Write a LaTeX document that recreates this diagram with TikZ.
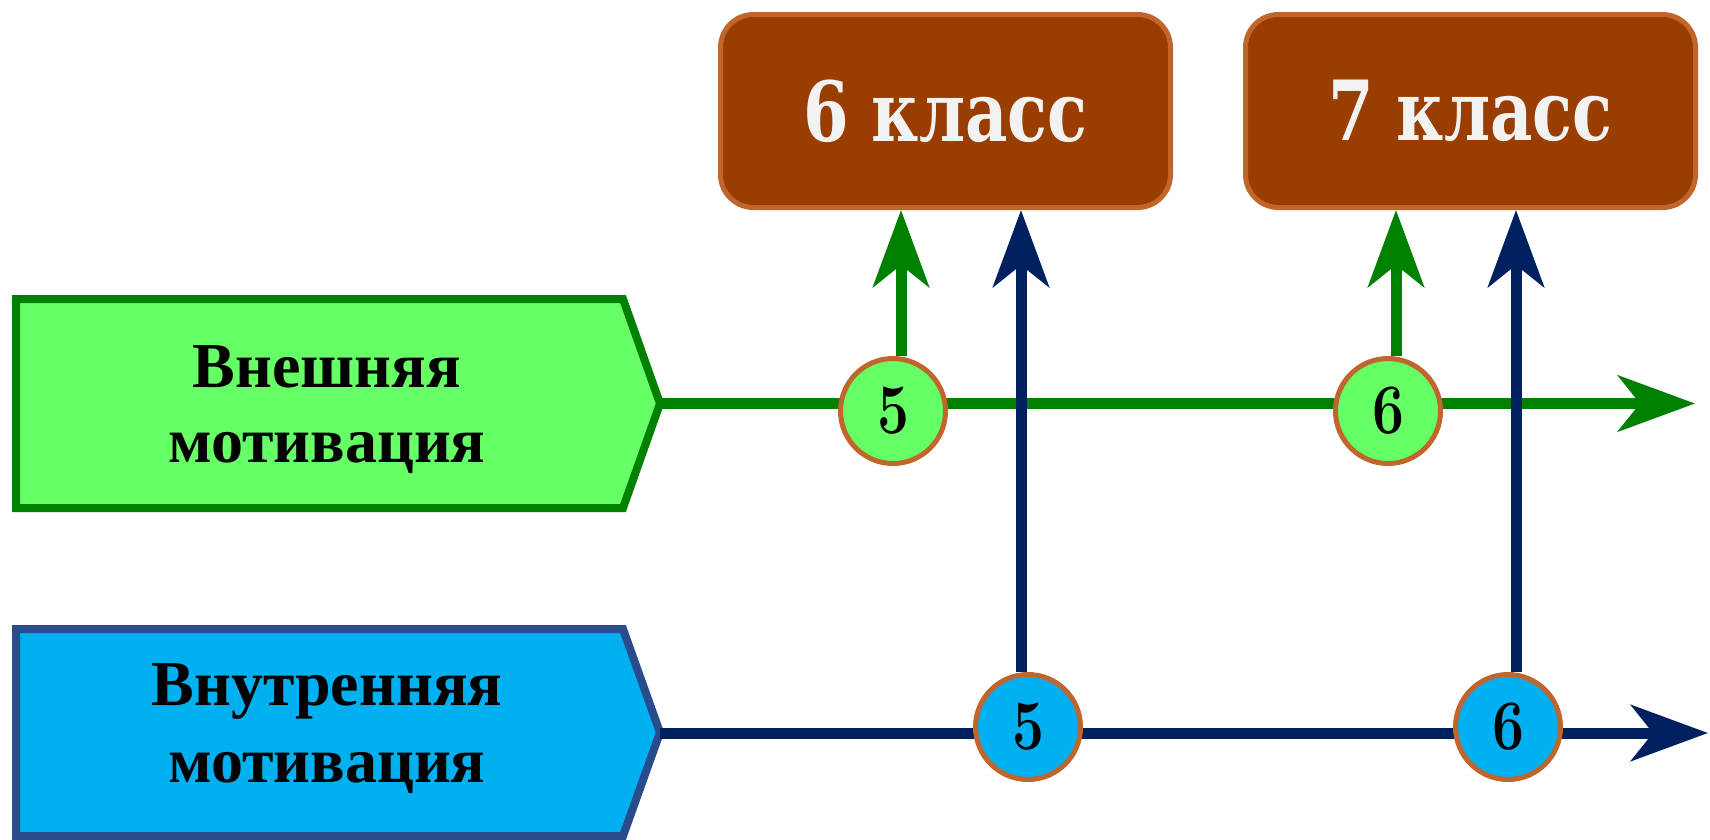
\documentclass[tikz,border=0pt]{standalone}
\usepackage{fontspec}
\newfontfamily\tnr{Liberation Serif}
\newfontfamily\djv{DejaVu Serif}
\usetikzlibrary{arrows.meta}
\definecolor{gline}{HTML}{008000}
\definecolor{gfill}{HTML}{66FF66}
\definecolor{bfill}{HTML}{00B0F0}
\definecolor{bbord}{HTML}{2A4C8C}
\definecolor{navy}{HTML}{002060}
\definecolor{brownfill}{HTML}{993D00}
\definecolor{brownbord}{HTML}{C0662C}
\definecolor{lightw}{HTML}{F2F2F2}
\tikzset{
  arr/.style={-{Stealth[length=77pt,width=56pt,inset=22pt]}},
  gl/.style={gline, line width=11pt, arr},
  bl/.style={navy, line width=11pt, arr},
  classbox/.style={draw=brownbord, fill=brownfill, line width=5pt, rounded corners=33pt,
    minimum width=450pt, minimum height=193pt, inner sep=0pt, text=lightw,
    font=\djv\bfseries\fontsize{83}{83}\selectfont},
  circ/.style={circle, draw=brownbord, line width=5pt, minimum size=105pt, inner sep=0pt,
    font=\bfseries\fontsize{71}{71}\selectfont},
  lbl/.style={anchor=base, inner sep=0pt, font=\tnr\bfseries\fontsize{64}{64}\selectfont},
}
\begin{document}
\begin{tikzpicture}[x=1pt,y=-1pt]
\useasboundingbox (0,0) rectangle (1710,839);
% category boxes
\draw[gline, fill=gfill, line width=8pt, line join=miter]
  (16,299) -- (623,299) -- (660,403.5) -- (623,508) -- (16,508) -- cycle;
\draw[bbord, fill=bfill, line width=8pt, line join=miter]
  (16,629) -- (623,629) -- (660,732.5) -- (623,836) -- (16,836) -- cycle;
\coordinate (gtip) at (660,403.5);
\coordinate (btip) at (660,733);
\coordinate (gend) at (1695,403.5);
\coordinate (bend) at (1708,733);
\node[lbl] (g1) at (327,387) {Внешняя};
\node[lbl] (g2) at (327,462) {мотивация};
\node[lbl] (b1) at (327,705) {Внутренняя};
\node[lbl] (b2) at (327,782) {мотивация};
% class boxes
\node[classbox] (box6) at (945.5,111) {\raisebox{-4pt}{\scalebox{0.79}[1]{6 класс}}};
\node[classbox] (box7) at (1470.5,111) {\raisebox{-4pt}{\scalebox{0.79}[1]{7 класс}}};
% horizontal lines
\draw[gl] (gtip) -- (gend);
\draw[bl] (btip) -- (bend);
% circles
\node[circ, fill=gfill] (c5g) at (893,411) {\scalebox{0.8}[1]{5}};
\node[circ, fill=gfill] (c6g) at (1388,411) {\scalebox{0.8}[1]{6}};
\node[circ, fill=bfill] (c5b) at (1028,727) {\scalebox{0.8}[1]{5}};
\node[circ, fill=bfill] (c6b) at (1508,727) {\scalebox{0.8}[1]{6}};
% vertical arrows
\coordinate (x1) at (901,0);
\coordinate (x2) at (1021,0);
\coordinate (x3) at (1396,0);
\coordinate (x4) at (1516,0);
\draw[gl] (x1 |- c5g.north) -- (x1 |- box6.south);
\draw[bl] (x2 |- c5b.north) -- (x2 |- box6.south);
\draw[gl] (x3 |- c6g.north) -- (x3 |- box7.south);
\draw[bl] (x4 |- c6b.north) -- (x4 |- box7.south);
\end{tikzpicture}
\end{document}
